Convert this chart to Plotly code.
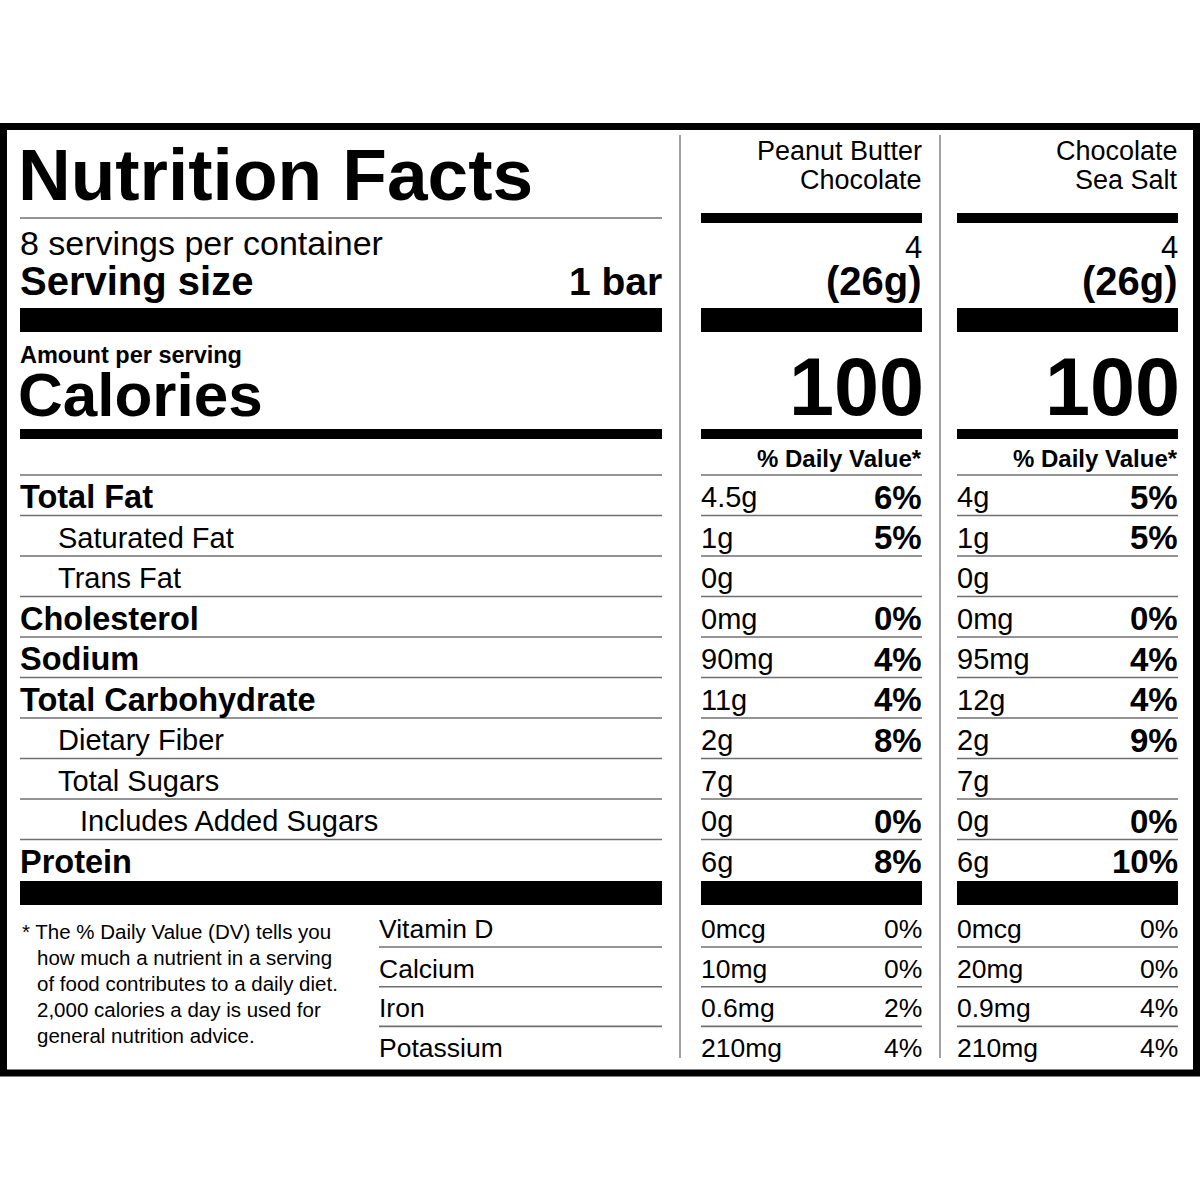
"""Nutrition Facts label for two bar flavours, drawn with plotly shapes and annotations"""

import plotly.graph_objects as go

FONT = "Liberation Sans"

FLAVOURS = [["Peanut Butter", "Chocolate"], ["Chocolate", "Sea Salt"]]
SERVINGS_TEXT = "8 servings per container"
SERVING_SIZE = "1 bar"
SERVING_COUNT = ["4", "4"]
SERVING_WEIGHT = ["(26g)", "(26g)"]
CALORIES = [100, 100]

NUTRIENTS = ["Total Fat", "Saturated Fat", "Trans Fat", "Cholesterol", "Sodium",
             "Total Carbohydrate", "Dietary Fiber", "Total Sugars",
             "Includes Added Sugars", "Protein"]
NUTRIENT_BOLD = [True, False, False, True, True, True, False, False, False, True]
NUTRIENT_LEVEL = [0, 1, 1, 0, 0, 0, 1, 1, 2, 0]

AMOUNTS = [
    ["4.5g", "1g", "0g", "0mg", "90mg", "11g", "2g", "7g", "0g", "6g"],
    ["4g", "1g", "0g", "0mg", "95mg", "12g", "2g", "7g", "0g", "6g"],
]
DAILY_VALUES = [
    ["6%", "5%", "", "0%", "4%", "4%", "8%", "", "0%", "8%"],
    ["5%", "5%", "", "0%", "4%", "4%", "9%", "", "0%", "10%"],
]

VITAMINS = ["Vitamin D", "Calcium", "Iron", "Potassium"]
VITAMIN_AMOUNTS = [
    ["0mcg", "10mg", "0.6mg", "210mg"],
    ["0mcg", "20mg", "0.9mg", "210mg"],
]
VITAMIN_DV = [
    ["0%", "0%", "2%", "4%"],
    ["0%", "0%", "4%", "4%"],
]

FOOTNOTE = [
    "* The % Daily Value (DV) tells you",
    "how much a nutrient in a serving",
    "of food contributes to a daily diet.",
    "2,000 calories a day is used for",
    "general nutrition advice.",
]

# layout of the label (pixel units of the 1200x1200 canvas)
LEFT = (20, 662)
COLS = [(701, 922), (957, 1178)]
DIVIDERS = [680, 940]
ROW_TOP = 497
ROW_H = 40.5
VIT_TOP = 929
VIT_H = 39.7
INDENT = [20, 58, 80]

fig = go.Figure()
annotations = []


def txt(x, y, s, size, bold=False, anchor="left", box=None):
    ann = dict(
        x=x, y=y, xref="x", yref="y", text=s, showarrow=False,
        xanchor=anchor, yanchor="middle", borderpad=0,
        font=dict(family=FONT, size=size, color="black",
                  weight="bold" if bold else "normal"),
    )
    if box:
        ann["height"] = box
    annotations.append(ann)


def bar(x0, x1, y0, y1):
    fig.add_shape(type="rect", x0=x0, x1=x1, y0=y0, y1=y1,
                  fillcolor="black", line_width=0, layer="above")


def rule(x0, x1, y):
    fig.add_shape(type="line", x0=x0, x1=x1, y0=y, y1=y,
                  line=dict(color="#707070", width=1.6), layer="above")


# outer frame and column dividers
fig.add_shape(type="rect", x0=3.5, x1=1196.5, y0=126.5, y1=1073,
              line=dict(color="black", width=7))
for dx in DIVIDERS:
    fig.add_shape(type="line", x0=dx, x1=dx, y0=135, y1=1058,
                  line=dict(color="#8a8a8a", width=1.6))

# header block on the left
txt(LEFT[0] - 3, 174, "Nutrition Facts", 73, bold=True, box=64)
rule(LEFT[0], LEFT[1], 218)
txt(LEFT[0] - 1, 243, SERVINGS_TEXT, 34)
txt(LEFT[0] - 1, 281, "Serving size", 40, bold=True)
txt(LEFT[1] + 1, 281, SERVING_SIZE, 39, bold=True, anchor="right")
bar(LEFT[0], LEFT[1], 308, 332)
txt(LEFT[0] - 1, 355, "Amount per serving", 23.5, bold=True)
txt(LEFT[0] - 3, 394, "Calories", 62, bold=True, box=48)
bar(LEFT[0], LEFT[1], 429, 439)
rule(LEFT[0], LEFT[1], 475)

# header block of each flavour column
for c, (x0, x1) in enumerate(COLS):
    txt(x1 + 1, 151, FLAVOURS[c][0], 27, anchor="right")
    txt(x1 + 1, 180, FLAVOURS[c][1], 27, anchor="right")
    bar(x0, x1, 213, 223)
    txt(x1 + 1, 247, SERVING_COUNT[c], 31, anchor="right", box=26)
    txt(x1 + 1, 281, SERVING_WEIGHT[c], 40, bold=True, anchor="right")
    bar(x0, x1, 308, 332)
    txt(x1 + 3, 387, str(CALORIES[c]), 81, bold=True, anchor="right", box=68)
    bar(x0, x1, 429, 439)
    txt(x1 + 1, 458, "% Daily Value*", 24, bold=True, anchor="right")
    rule(x0, x1, 475)

# nutrient rows
for i, name in enumerate(NUTRIENTS):
    y = ROW_TOP + i * ROW_H
    bold = NUTRIENT_BOLD[i]
    txt(INDENT[NUTRIENT_LEVEL[i]] - 1, y, name, 32.5 if bold else 29, bold=bold)
    for c, (x0, x1) in enumerate(COLS):
        txt(x0 - 1, y, AMOUNTS[c][i], 29)
        if DAILY_VALUES[c][i]:
            txt(x1 + 1, y, DAILY_VALUES[c][i], 33, bold=True, anchor="right")
    if i < len(NUTRIENTS) - 1:
        rule(LEFT[0], LEFT[1], y + 18.5)
        for x0, x1 in COLS:
            rule(x0, x1, y + 18.5)

# thick bar below protein
for x0, x1 in [LEFT] + COLS:
    bar(x0, x1, 881, 905)

# vitamins and minerals
for j, name in enumerate(VITAMINS):
    y = VIT_TOP + j * VIT_H
    txt(378, y, name, 26.5)
    for c, (x0, x1) in enumerate(COLS):
        txt(x0 - 1, y, VITAMIN_AMOUNTS[c][j], 26.5)
        txt(x1 + 1, y, VITAMIN_DV[c][j], 26.5, anchor="right")
    if j < len(VITAMINS) - 1:
        rule(379, LEFT[1], y + 18)
        for x0, x1 in COLS:
            rule(x0, x1, y + 18)

# footnote
for k, line in enumerate(FOOTNOTE):
    txt(21 if k == 0 else 36, 931 + k * 26, line, 20.5)

fig.update_layout(
    width=1200, height=1200,
    margin=dict(l=0, r=0, t=0, b=0),
    paper_bgcolor="white", plot_bgcolor="white",
    xaxis=dict(range=[0, 1200], visible=False, fixedrange=True),
    yaxis=dict(range=[1200, 0], visible=False, fixedrange=True),
    showlegend=False,
    annotations=annotations,
)

# drop the default page margin so the canvas sits at the window's corner
fig.write_html("out.html", config={"displayModeBar": False},
               post_script="document.body.style.margin = '0';")
